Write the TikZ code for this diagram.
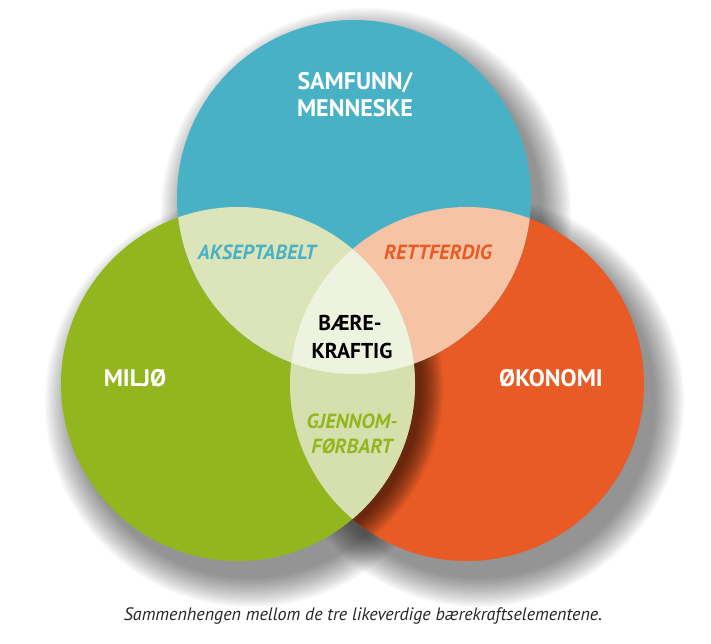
\documentclass[tikz,border=0pt]{standalone}
\usepackage{fontspec}
\setmainfont{PT Sans}
\definecolor{cblue}{HTML}{48B1C5}
\definecolor{cgreen}{HTML}{93B61E}
\definecolor{corange}{HTML}{E85B24}
\definecolor{cpalebg}{HTML}{DCE4B9}
\definecolor{cpeach}{HTML}{F6C3A5}
\definecolor{cpalego}{HTML}{D6E0AF}
\definecolor{ctriple}{HTML}{EEF3DF}
\tikzset{
  mainlab/.style={font=\bfseries\fontsize{24}{24}\selectfont, text=white, anchor=base, inner sep=0pt},
  lenslab/.style={font=\bfseries\itshape\fontsize{20.5}{20.5}\selectfont, anchor=base, inner sep=0pt},
  centlab/.style={font=\bfseries\fontsize{21.5}{21.5}\selectfont, text=black, anchor=base, inner sep=0pt},
  shade/.style={black, opacity=0.03}
}
\begin{document}
\begin{tikzpicture}[x=1pt,y=-1pt]
\useasboundingbox (0,0) rectangle (711,643);
\fill[white] (0,0) rectangle (711,643);
\coordinate (B) at (354,197);
\coordinate (G) at (238,384);
\coordinate (O) at (467,384);
% drop shadows
\foreach \i in {0,...,15} {
  \fill[shade] (366,213) circle[radius={205pt-\i*1.9pt}];
  \fill[shade] (250,402) circle[radius={205pt-\i*1.9pt}];
  \fill[shade] (479,402) circle[radius={205pt-\i*1.9pt}];
}
% orange
\fill[corange] (O) circle[radius=177pt];
% shadow of green onto orange
\begin{scope}
  \clip (O) circle[radius=177pt];
  \foreach \i in {0,...,12} {
    \fill[black, opacity=0.055] (249,388) circle[radius={194pt-\i*1.8pt}];
  }
\end{scope}
% green
\fill[cgreen] (G) circle[radius=177pt];
% blue
\fill[cblue] (B) circle[radius=177pt];
% blue and green, blue and orange
\begin{scope}
  \clip (B) circle[radius=177pt];
  \fill[cpalebg] (G) circle[radius=177pt];
  \fill[cpeach] (O) circle[radius=177pt];
\end{scope}
% green and orange
\begin{scope}
  \clip (G) circle[radius=177pt];
  \fill[cpalego] (O) circle[radius=177pt];
\end{scope}
% all three
\begin{scope}
  \clip (B) circle[radius=177pt];
  \clip (G) circle[radius=177pt];
  \fill[ctriple] (O) circle[radius=177pt];
\end{scope}
% labels
\node[mainlab] (samf1) at (355,89) {SAMFUNN/};
\node[mainlab] (samf2) at (355,116) {MENNESKE};
\node[mainlab] (milj) at (135,386) {MILJØ};
\node[mainlab] (okon) at (551,386) {ØKONOMI};
\node[lenslab, text=cblue] (aksept) at (257,259) {AKSEPTABELT};
\node[lenslab, text=corange] (rettf) at (438,259) {RETTFERDIG};
\node[centlab] (baere) at (350,330) {BÆRE-};
\node[centlab] (kraft) at (352,358) {KRAFTIG};
\node[lenslab, text=cgreen] (gjen) at (352,428) {GJENNOM-};
\node[lenslab, text=cgreen] (forb) at (352,453) {FØRBART};
\node[font=\itshape\fontsize{18}{18}\selectfont, text=black!85, anchor=base, inner sep=0pt] (cap) at (363,620) {Sammenhengen mellom de tre likeverdige bærekraftselementene.};
\end{tikzpicture}
\end{document}
